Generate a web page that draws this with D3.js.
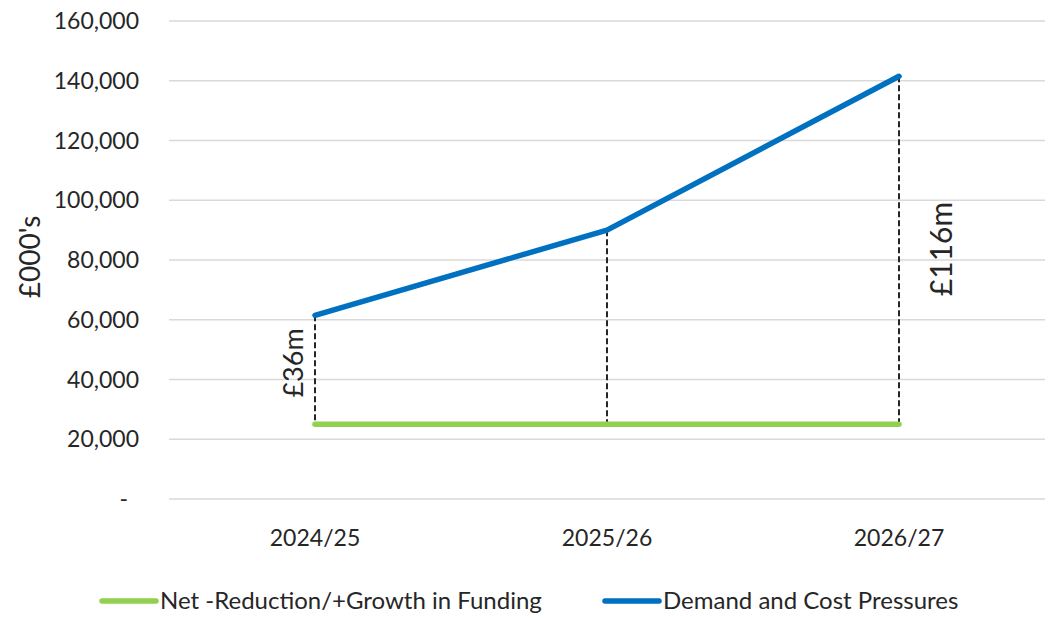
<!DOCTYPE html>
<html>
<head>
<meta charset="utf-8">
<script src="https://cdn.jsdelivr.net/npm/d3@7"></script>
<style>
  body { margin: 0; background: #fff; }
  text { font-family: Lato, "Open Sans", sans-serif; fill: #262626; }
</style>
</head>
<body>
<div id="chart"></div>
<script>
var width = 1048;
var height = 618;

var years = ["2024/25", "2025/26", "2026/27"];
var funding = [25000, 25000, 25000];
var pressures = [61500, 90000, 141500];
var yTicks = [0, 20000, 40000, 60000, 80000, 100000, 120000, 140000, 160000];
var gapLabels = ["£36m", "", "£116m"];
var seriesNames = ["Net -Reduction/+Growth in Funding", "Demand and Cost Pressures"];
var seriesColors = ["#92d050", "#0070c0"];

var svg = d3.select("#chart")
            .append("svg")
            .attr("width", width)
            .attr("height", height);

var x = d3.scaleBand()
    .domain(years)
    .range([169, 1045]);

var y = d3.scaleLinear()
    .domain([0, 160000])
    .range([499, 21]);

function cx(d) { return x(d) + x.bandwidth() / 2; }

// gridlines
svg.append("g")
    .selectAll("line")
    .data(yTicks)
    .enter()
    .append("line")
    .attr("x1", 169)
    .attr("x2", 1045)
    .attr("y1", function(d) { return y(d); })
    .attr("y2", function(d) { return y(d); })
    .attr("stroke", "#d9d9d9")
    .attr("stroke-width", 1.5);

// y tick labels
svg.append("g")
    .selectAll("text")
    .data(yTicks)
    .enter()
    .append("text")
    .attr("x", function(d) { return d === 0 ? 128 : 139; })
    .attr("y", function(d) { return y(d); })
    .attr("dy", "0.35em")
    .attr("text-anchor", "end")
    .style("font-size", "23px")
    .text(function(d) { return d === 0 ? "-" : d3.format(",")(d); });

// axis title
svg.append("text")
    .attr("transform", "translate(40,257) rotate(-90)")
    .attr("text-anchor", "middle")
    .style("font-size", "28px")
    .text("£000's");

// category labels
svg.append("g")
    .selectAll("text")
    .data(years)
    .enter()
    .append("text")
    .attr("x", cx)
    .attr("y", 546)
    .attr("text-anchor", "middle")
    .style("font-size", "23px")
    .text(function(d) { return d; });

// dashed drop lines
svg.append("g")
    .selectAll("line")
    .data(years)
    .enter()
    .append("line")
    .attr("x1", cx)
    .attr("x2", cx)
    .attr("y1", function(d, i) { return y(pressures[i]); })
    .attr("y2", function(d, i) { return y(funding[i]); })
    .attr("stroke", "#262626")
    .attr("stroke-width", 2)
    .attr("stroke-dasharray", "6,3");

var line = d3.line()
    .x(function(d) { return cx(d[0]); })
    .y(function(d) { return y(d[1]); });

[funding, pressures].forEach(function(vals, k) {
    svg.append("path")
        .attr("d", line(years.map(function(d, i) { return [d, vals[i]]; })))
        .attr("fill", "none")
        .attr("stroke", seriesColors[k])
        .attr("stroke-width", 5.5)
        .attr("stroke-linecap", "round")
        .attr("stroke-linejoin", "round");
});

// gap labels
svg.append("text")
    .attr("transform", "translate(" + (cx(years[0]) - 12) + "," + 363 + ") rotate(-90)")
    .attr("text-anchor", "middle")
    .style("font-size", "27px")
    .text(gapLabels[0]);

svg.append("text")
    .attr("transform", "translate(" + (cx(years[2]) + 53) + "," + 249 + ") rotate(-90)")
    .attr("text-anchor", "middle")
    .style("font-size", "30px")
    .text(gapLabels[2]);

// legend
var legendX = [100, 603];
seriesNames.forEach(function(name, k) {
    svg.append("line")
        .attr("x1", legendX[k] + 2)
        .attr("x2", legendX[k] + 56)
        .attr("y1", 601)
        .attr("y2", 601)
        .attr("stroke", seriesColors[k])
        .attr("stroke-width", 5.5)
        .attr("stroke-linecap", "round");
    svg.append("text")
        .attr("x", legendX[k] + 60)
        .attr("y", 601)
        .attr("dy", "0.35em")
        .style("font-size", "24px")
        .text(name);
});
</script>
</body>
</html>
